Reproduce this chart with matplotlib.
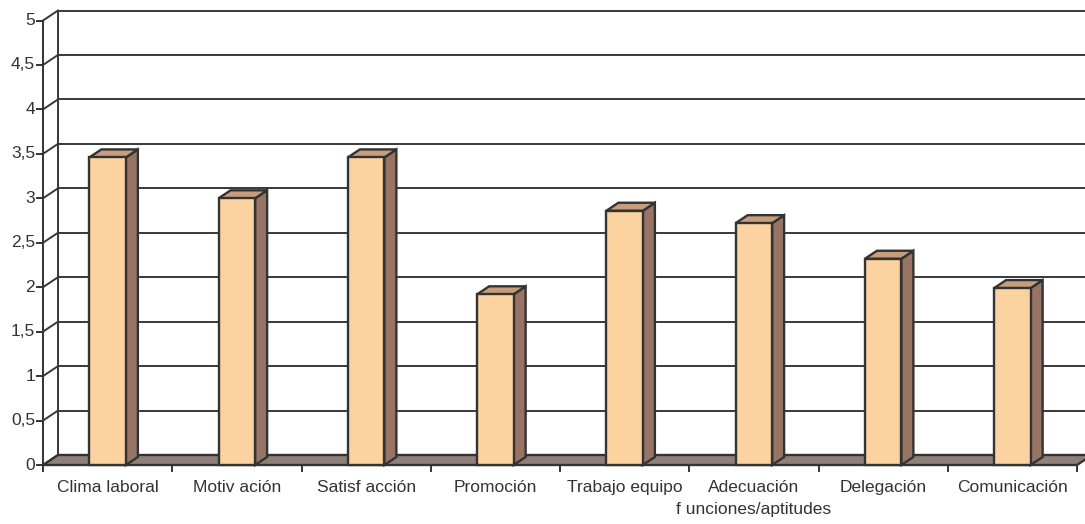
import matplotlib
matplotlib.use("Agg")
import matplotlib.pyplot as plt
from matplotlib.patches import Polygon

# Data
categories = ["Clima laboral", "Motiv ación", "Satisf acción", "Promoción",
              "Trabajo equipo", "Adecuación\nf unciones/aptitudes",
              "Delegación", "Comunicación"]
values = [3.46, 3.0, 3.46, 1.92, 2.86, 2.72, 2.32, 1.99]
y_ticks = [0, 0.5, 1, 1.5, 2, 2.5, 3, 3.5, 4, 4.5, 5]
y_tick_labels = ["0", "0,5", "1", "1,5", "2", "2,5", "3", "3,5", "4", "4,5", "5"]

# Styling
W, H, DPI = 1085, 524, 100
px_x = 129.25           # pixels per category
px_y = 88.9             # pixels per value unit
x0_px, y0_px = 43, 465  # origin of front axes in pixels (from top-left)

wall_dx, wall_dy = 15 / px_x, 10 / px_y   # depth of the walls
bar_dx, bar_dy = 12 / px_x, 8 / px_y      # depth of each column
bar_w = 36.5 / px_x

edge = "#333333"
grid_c = "#383838"
front_c = "#FCD2A0"
top_c = "#C79D7B"
side_c = "#977463"
floor_c = "#8F807A"
text_c = "#333333"

plt.rcParams["font.family"] = ["Liberation Sans", "DejaVu Sans"]

fig = plt.figure(figsize=(W / DPI, H / DPI), dpi=DPI)
ax = fig.add_axes([0, 0, 1, 1])
ax.set_xlim(-x0_px / px_x, (W - x0_px) / px_x)
ax.set_ylim((y0_px - H) / px_y, y0_px / px_y)
ax.axis("off")

n = len(categories)
lw_grid = 1.4
lw_edge = 1.7
fs = 12.5

# Back wall gridlines
for v in y_ticks:
    ax.plot([wall_dx, n + wall_dx + 1], [v + wall_dy, v + wall_dy],
            color=grid_c, lw=lw_grid, solid_capstyle="butt", zorder=1)
    # left wall connectors
    ax.plot([0, wall_dx], [v, v + wall_dy], color=grid_c, lw=lw_grid, zorder=1)
    # y tick marks
    ax.plot([-6 / px_x, 0], [v, v], color=edge, lw=lw_grid, zorder=3)

# Left wall back edge and front axis line
ax.plot([wall_dx, wall_dx], [wall_dy, y_ticks[-1] + wall_dy], color=grid_c, lw=lw_grid, zorder=1)
ax.plot([0, 0], [0, y_ticks[-1]], color=edge, lw=lw_grid, zorder=3)

# Floor
floor = Polygon([(0, 0), (n, 0), (n + wall_dx, wall_dy), (wall_dx, wall_dy)],
                closed=True, facecolor=floor_c, edgecolor=edge, lw=lw_edge,
                joinstyle="miter", zorder=2)
ax.add_patch(floor)

# Category ticks on the front floor edge
for i in range(n + 1):
    ax.plot([i, i], [0, -6 / px_y], color=edge, lw=lw_grid, zorder=3)

# Columns
for i, v in enumerate(values):
    xl = i + 0.5 - bar_w / 2
    xr = xl + bar_w
    side = Polygon([(xr, 0), (xr + bar_dx, bar_dy), (xr + bar_dx, v + bar_dy), (xr, v)],
                   closed=True, facecolor=side_c, edgecolor=edge, lw=lw_edge,
                   joinstyle="miter", zorder=4)
    top = Polygon([(xl, v), (xr, v), (xr + bar_dx, v + bar_dy), (xl + bar_dx, v + bar_dy)],
                  closed=True, facecolor=top_c, edgecolor=edge, lw=lw_edge,
                  joinstyle="miter", zorder=4)
    front = Polygon([(xl, 0), (xr, 0), (xr, v), (xl, v)],
                    closed=True, facecolor=front_c, edgecolor=edge, lw=lw_edge,
                    joinstyle="miter", zorder=5)
    for p in (side, top, front):
        ax.add_patch(p)

# Tick labels
for v, lab in zip(y_ticks, y_tick_labels):
    ax.text(-8 / px_x, v, lab, ha="right", va="center", fontsize=fs, color=text_c)

for i, lab in enumerate(categories):
    ax.text(i + 0.5, -15 / px_y, lab, ha="center", va="top", fontsize=fs,
            color=text_c, linespacing=1.55)

fig.savefig("out.png", dpi=DPI)
